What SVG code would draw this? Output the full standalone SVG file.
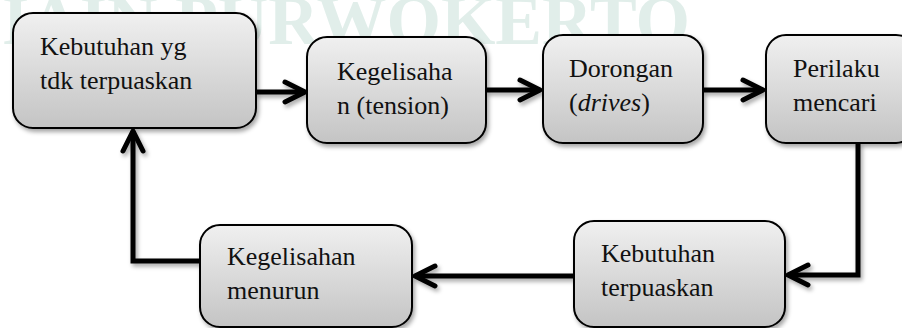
<svg xmlns="http://www.w3.org/2000/svg" width="902" height="328" viewBox="0 0 902 328">
  <style>
    .box { fill: url(#g); stroke: #000; stroke-width: 2; filter: url(#sh); }
    .t { font-family: "Liberation Serif", "Times New Roman", serif; font-size: 26px; fill: #111; }
    .c { fill: none; stroke: #000; stroke-width: 5; stroke-linejoin: miter; marker-end: url(#ah); filter: url(#sh); }
    .wm { font-family: "Liberation Serif", "Times New Roman", serif; font-weight: bold; font-size: 70px; fill: #e1eeea; }
  </style>
  <defs>
    <linearGradient id="g" x1="0" y1="0" x2="0" y2="1">
      <stop offset="0" stop-color="#f0f0f0"/>
      <stop offset="1" stop-color="#c4c4c4"/>
    </linearGradient>
    <filter id="sh" filterUnits="userSpaceOnUse" x="0" y="0" width="902" height="328">
      <feDropShadow dx="2" dy="3" stdDeviation="2" flood-color="#000" flood-opacity="0.35"/>
    </filter>
    <marker id="ah" markerUnits="userSpaceOnUse" markerWidth="30" markerHeight="30" refX="0" refY="0" viewBox="-25 -15 30 30" orient="auto" overflow="visible">
      <path d="M-20,-10 L0,0 L-20,10" fill="none" stroke="#000" stroke-width="5" stroke-linecap="round" stroke-linejoin="round"/>
    </marker>
  </defs>
  <rect width="902" height="328" fill="#fff"/>
  <text class="wm" x="690" y="44" text-anchor="end">IAIN PURWOKERTO</text>

  <g id="connectors">
    <path class="c" d="M256,92 H305"/>
    <path class="c" d="M486,90 H540"/>
    <path class="c" d="M703,90 H763"/>
    <path class="c" d="M858,143 V275 H788"/>
    <path class="c" d="M574,276 H415"/>
    <path class="c" d="M200,261 H133 V131"/>
  </g>

  <g id="n1">
    <rect class="box" x="13" y="13" width="243" height="115" rx="20"/>
    <text class="t" x="40" y="55">Kebutuhan yg</text>
    <text class="t" x="40" y="89">tdk terpuaskan</text>
  </g>
  <g id="n2">
    <rect class="box" x="307" y="37" width="179" height="106" rx="20"/>
    <text class="t" x="337" y="80">Kegelisaha</text>
    <text class="t" x="337" y="114">n (tension)</text>
  </g>
  <g id="n3">
    <rect class="box" x="543" y="35" width="160" height="108" rx="20"/>
    <text class="t" x="569" y="77">Dorongan</text>
    <text class="t" x="569" y="111">(<tspan font-style="italic">drives</tspan>)</text>
  </g>
  <g id="n4">
    <rect class="box" x="766" y="35" width="150" height="108" rx="20"/>
    <text class="t" x="793" y="77">Perilaku</text>
    <text class="t" x="793" y="111">mencari</text>
  </g>
  <g id="n5">
    <rect class="box" x="200" y="225" width="212" height="102" rx="20"/>
    <text class="t" x="227" y="265">Kegelisahan</text>
    <text class="t" x="227" y="299">menurun</text>
  </g>
  <g id="n6">
    <rect class="box" x="574" y="221" width="211" height="106" rx="20"/>
    <text class="t" x="601" y="262">Kebutuhan</text>
    <text class="t" x="601" y="296">terpuaskan</text>
  </g>
</svg>
